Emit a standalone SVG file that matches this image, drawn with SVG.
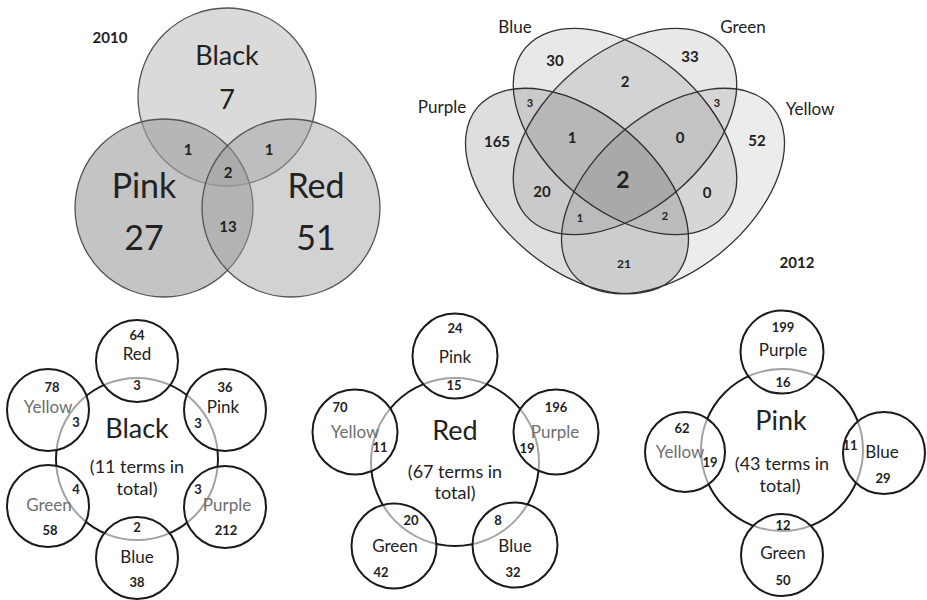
<svg xmlns="http://www.w3.org/2000/svg" width="927" height="600" viewBox="0 0 927 600">
<style>
text{font-family:Lato,"Liberation Sans",sans-serif;fill:#222;text-anchor:middle}
.b{font-weight:bold}
.g{fill:#6e6e6e}
.v3{stroke:#555;stroke-width:1.3;fill:#a0a0a0}
.v4{stroke:#333;stroke-width:1.3;fill:#000}
.big{fill:none;stroke:#1a1a1a;stroke-width:2}
.sm{fill:#fff;fill-opacity:0.6;stroke:#1a1a1a;stroke-width:2}
.n{font-size:13px;font-weight:bold}
.l{font-size:17px}
.t{font-size:18px}
</style>
<rect width="927" height="600" fill="#fff"/>

<!-- 2010 three-set Venn -->
<g id="venn2010">
  <text x="110" y="43" class="b" font-size="15">2010</text>
  <g id="v10-black"><circle class="v3" cx="227" cy="97" r="89" fill-opacity="0.39"/></g>
  <g id="v10-pink"><circle class="v3" cx="164" cy="208" r="89" fill-opacity="0.62"/></g>
  <g id="v10-red"><circle class="v3" cx="291" cy="208" r="89" fill-opacity="0.47"/></g>
  <text x="227" y="65" font-size="27">Black</text>
  <text x="227" y="109" font-size="27">7</text>
  <text x="144" y="198" font-size="34">Pink</text>
  <text x="144" y="250" font-size="34">27</text>
  <text x="316" y="198" font-size="34">Red</text>
  <text x="316" y="250" font-size="34">51</text>
  <text x="188" y="155" class="b" font-size="15">1</text>
  <text x="269" y="155" class="b" font-size="15">1</text>
  <text x="228" y="178" class="b" font-size="15">2</text>
  <text x="228" y="232" class="b" font-size="15">13</text>
</g>

<!-- 2012 four-set Venn -->
<g id="venn2012">
  <g id="v12-purple"><ellipse class="v4" cx="577" cy="191" rx="130" ry="78" transform="rotate(40 577 191)" fill-opacity="0.13"/></g>
  <g id="v12-blue"><ellipse class="v4" cx="625" cy="131.5" rx="130" ry="79" transform="rotate(40 625 131.5)" fill-opacity="0.09"/></g>
  <g id="v12-green"><ellipse class="v4" cx="625" cy="131.5" rx="130" ry="79" transform="rotate(-40 625 131.5)" fill-opacity="0.09"/></g>
  <g id="v12-yellow"><ellipse class="v4" cx="673" cy="191" rx="130" ry="78" transform="rotate(-40 673 191)" fill-opacity="0.075"/></g>
  <text x="515" y="33" font-size="17">Blue</text>
  <text x="743" y="33" font-size="17">Green</text>
  <text x="442" y="113" font-size="17">Purple</text>
  <text x="810" y="115" font-size="17">Yellow</text>
  <text x="797" y="268" class="b" font-size="15">2012</text>
  <text x="555" y="66" class="b" font-size="15">30</text>
  <text x="690" y="62" class="b" font-size="15">33</text>
  <text x="625" y="87" class="b" font-size="15">2</text>
  <text x="530" y="107" class="b" font-size="11">3</text>
  <text x="717" y="107" class="b" font-size="11">3</text>
  <text x="497" y="147" class="b" font-size="15">165</text>
  <text x="572" y="143" class="b" font-size="15">1</text>
  <text x="680" y="143" class="b" font-size="15">0</text>
  <text x="757" y="146" class="b" font-size="15">52</text>
  <text x="623" y="188" class="b" font-size="23">2</text>
  <text x="542" y="197" class="b" font-size="15">20</text>
  <text x="707" y="198" class="b" font-size="15">0</text>
  <text x="580" y="222" class="b" font-size="11">1</text>
  <text x="665" y="220" class="b" font-size="11">2</text>
  <text x="624" y="268" class="b" font-size="12">21</text>
</g>

<!-- Black hub -->
<g id="hub-black">
  <circle class="big" cx="137" cy="459" r="81"/>
  <g id="b-red"><circle class="sm" cx="137" cy="361" r="41"/></g>
  <g id="b-pink"><circle class="sm" cx="225" cy="410" r="41"/></g>
  <g id="b-purple"><circle class="sm" cx="225" cy="507" r="41"/></g>
  <g id="b-blue"><circle class="sm" cx="137" cy="558" r="41"/></g>
  <g id="b-green"><circle class="sm" cx="48" cy="506" r="41"/></g>
  <g id="b-yellow"><circle class="sm" cx="48" cy="410" r="41"/></g>
  <text x="137" y="340" class="n">64</text>
  <text x="137" y="360" class="l">Red</text>
  <text x="137" y="390" class="n">3</text>
  <text x="225" y="392" class="n">36</text>
  <text x="223" y="413" class="l">Pink</text>
  <text x="198" y="428" class="n">3</text>
  <text x="52" y="392" class="n">78</text>
  <text x="48" y="413" class="l g">Yellow</text>
  <text x="76" y="427" class="n">3</text>
  <text x="137" y="438" font-size="27">Black</text>
  <text x="137" y="473" class="t">(11 terms in</text>
  <text x="137" y="495" class="t">total)</text>
  <text x="76" y="494" class="n">4</text>
  <text x="49" y="511" class="l g">Green</text>
  <text x="50" y="535" class="n">58</text>
  <text x="198" y="494" class="n">3</text>
  <text x="227" y="511" class="l g">Purple</text>
  <text x="226" y="535" class="n">212</text>
  <text x="137" y="532" class="n">2</text>
  <text x="137" y="563" class="l">Blue</text>
  <text x="137" y="587" class="n">38</text>
</g>

<!-- Red hub -->
<g id="hub-red">
  <circle class="big" cx="455" cy="462" r="84"/>
  <g id="r-pink"><circle class="sm" cx="455" cy="356" r="42.5"/></g>
  <g id="r-purple"><circle class="sm" cx="556" cy="432" r="42.5"/></g>
  <g id="r-blue"><circle class="sm" cx="515" cy="545" r="42.5"/></g>
  <g id="r-green"><circle class="sm" cx="394" cy="546" r="42.5"/></g>
  <g id="r-yellow"><circle class="sm" cx="355" cy="432" r="42.5"/></g>
  <text x="455" y="333" class="n">24</text>
  <text x="455" y="363" class="l">Pink</text>
  <text x="454" y="390" class="n">15</text>
  <text x="340" y="412" class="n">70</text>
  <text x="355" y="438" class="l g">Yellow</text>
  <text x="380" y="452" class="n">11</text>
  <text x="455" y="440" font-size="27">Red</text>
  <text x="455" y="478" class="t">(67 terms in</text>
  <text x="455" y="499" class="t">total)</text>
  <text x="556" y="412" class="n">196</text>
  <text x="555" y="438" class="l g">Purple</text>
  <text x="527" y="453" class="n">19</text>
  <text x="411" y="525" class="n">20</text>
  <text x="395" y="552" class="l">Green</text>
  <text x="381" y="577" class="n">42</text>
  <text x="498" y="525" class="n">8</text>
  <text x="515" y="552" class="l">Blue</text>
  <text x="513" y="577" class="n">32</text>
</g>

<!-- Pink hub -->
<g id="hub-pink">
  <circle class="big" cx="782" cy="450" r="81"/>
  <g id="p-purple"><circle class="sm" cx="782" cy="352" r="41.5"/></g>
  <g id="p-yellow"><circle class="sm" cx="685" cy="452" r="40"/></g>
  <g id="p-blue"><circle class="sm" cx="884" cy="453" r="41"/></g>
  <g id="p-green"><circle class="sm" cx="782" cy="555" r="41"/></g>
  <text x="783" y="332" class="n">199</text>
  <text x="783" y="356" class="l">Purple</text>
  <text x="783" y="387" class="n">16</text>
  <text x="781" y="430" font-size="27">Pink</text>
  <text x="782" y="470" class="t">(43 terms in</text>
  <text x="780" y="492" class="t">total)</text>
  <text x="682" y="433" class="n">62</text>
  <text x="680" y="458" class="l g">Yellow</text>
  <text x="710" y="467" class="n" font-size="12">19</text>
  <text x="850" y="450" class="n" font-size="12">11</text>
  <text x="882" y="458" class="l">Blue</text>
  <text x="883" y="483" class="n">29</text>
  <text x="783" y="530" class="n">12</text>
  <text x="783" y="559" class="l">Green</text>
  <text x="783" y="585" class="n">50</text>
</g>
<g id="connectors"/>
</svg>
